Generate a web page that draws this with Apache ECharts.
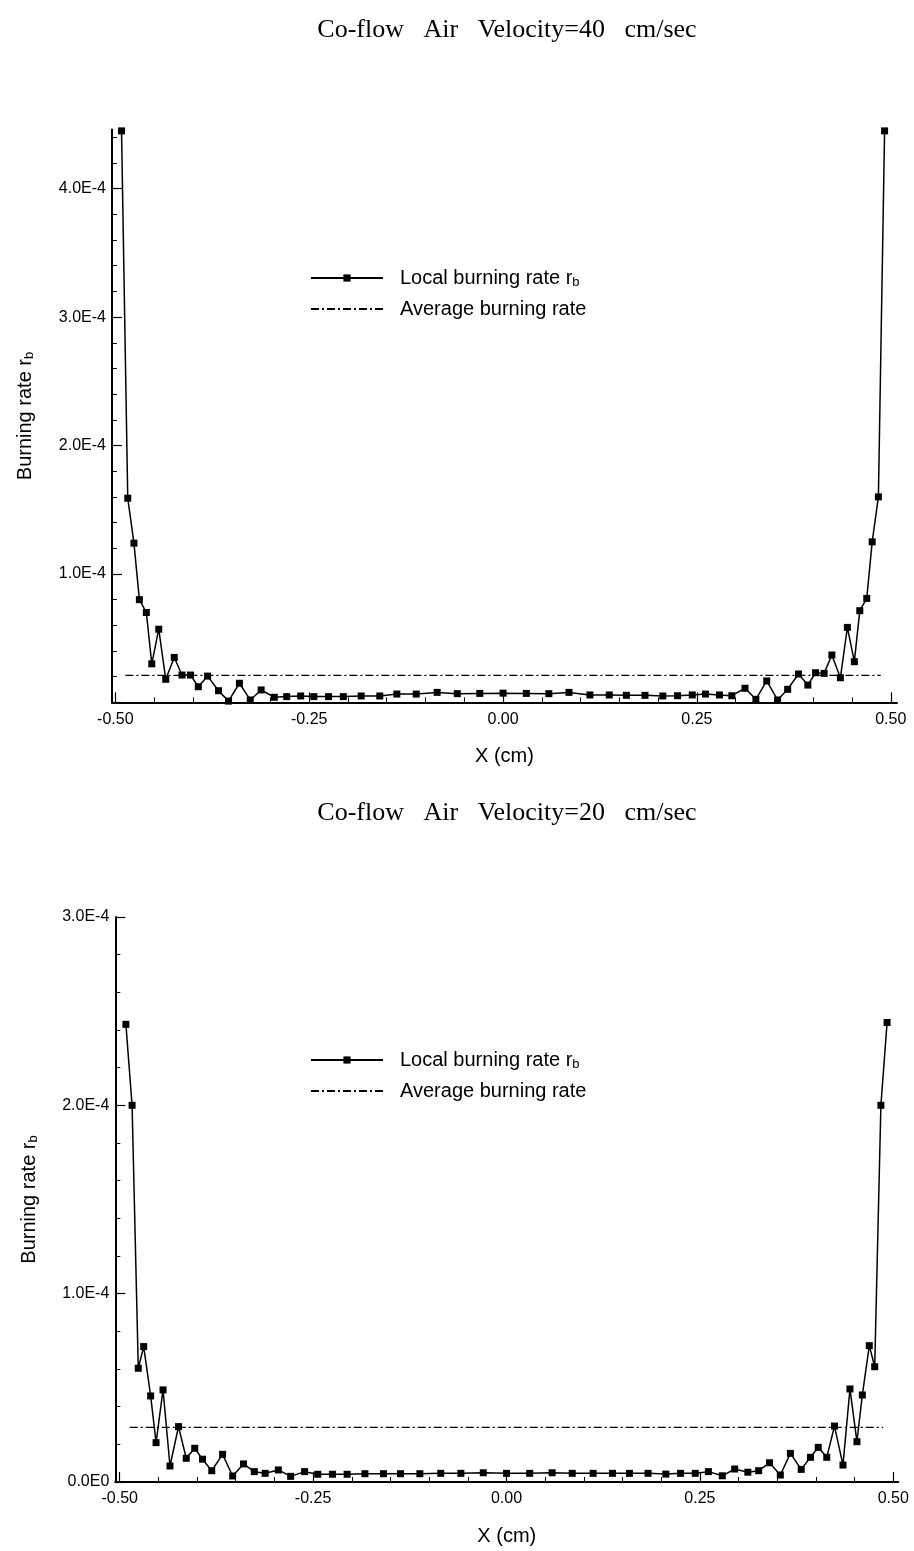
<!DOCTYPE html>
<html><head><meta charset="utf-8">
<script src="https://cdn.jsdelivr.net/npm/echarts@6/dist/echarts.min.js"></script>
<style>html,body{margin:0;padding:0;background:#fff}#c{width:914px;height:1551px}</style>
</head><body><div id="c"></div>
<script>
// x positions of the grid points (cm)
const xGrid = [-0.492,-0.484,-0.476,-0.469,-0.460,-0.453,-0.444,-0.435,-0.424,-0.414,-0.403,-0.393,-0.381,-0.367,-0.354,-0.340,-0.326,-0.312,-0.295,-0.279,-0.261,-0.244,-0.225,-0.206,-0.183,-0.159,-0.137,-0.112,-0.085,-0.059,-0.030,0,0.030,0.059,0.085,0.112,0.137,0.159,0.183,0.206,0.225,0.244,0.261,0.279,0.295,0.312,0.326,0.340,0.354,0.367,0.381,0.393,0.403,0.414,0.424,0.435,0.444,0.453,0.460,0.469,0.476,0.484,0.492];
// local burning rate, in units of 1E-4
const rate40 = [4.45,1.59,1.24,0.80,0.70,0.30,0.57,0.18,0.35,0.213,0.213,0.122,0.205,0.091,0.01,0.149,0.019,0.097,0.04,0.045,0.05,0.045,0.045,0.045,0.05,0.05,0.065,0.065,0.078,0.068,0.07,0.072,0.07,0.068,0.078,0.058,0.058,0.055,0.055,0.05,0.052,0.058,0.065,0.058,0.052,0.11,0.024,0.167,0.019,0.102,0.221,0.135,0.231,0.226,0.369,0.192,0.584,0.317,0.714,0.81,1.25,1.60,4.45];
const rate20 = [2.43,2.0,0.604,0.719,0.457,0.209,0.489,0.085,0.294,0.126,0.179,0.121,0.06,0.147,0.032,0.096,0.055,0.046,0.064,0.03,0.055,0.041,0.041,0.041,0.044,0.044,0.044,0.044,0.046,0.046,0.049,0.046,0.046,0.049,0.046,0.046,0.046,0.046,0.046,0.042,0.046,0.046,0.055,0.033,0.069,0.052,0.06,0.102,0.037,0.152,0.067,0.131,0.184,0.131,0.297,0.09,0.494,0.214,0.462,0.724,0.612,2.0,2.44];
const avg40 = 0.21;
const avg20 = 0.29;
const avgSpan = [-0.487, 0.487];
const SCALE = 1e4; // values above are rate * 1E4
const titles = ['Co-flow   Air   Velocity=40   cm/sec', 'Co-flow   Air   Velocity=20   cm/sec'];
const xMajor = [-0.5, -0.25, 0, 0.25, 0.5];
const xMinor = [-0.45,-0.40,-0.35,-0.30,-0.20,-0.15,-0.10,-0.05,0.05,0.10,0.15,0.20,0.30,0.35,0.40,0.45];
const y40Major = [0, 1, 2, 3, 4];
const y40Labels = [1, 2, 3, 4];
const y40Minor = [0.2,0.4,0.6,0.8,1.2,1.4,1.6,1.8,2.2,2.4,2.6,2.8,3.2,3.4,3.6,3.8,4.2,4.4];
const y20Major = [0, 1, 2, 3];
const y20Labels = [0, 1, 2, 3];
const y20Minor = [0.2,0.4,0.6,0.8,1.2,1.4,1.6,1.8,2.2,2.4,2.6,2.8];
const LOCAL = 'Local burning rate r_b';
const AVG = 'Average burning rate';

const sans = 'Liberation Sans';
const serif = 'Liberation Serif';
const toU = a => a.map(v => v / SCALE);
const yFmt = v => Math.abs(v) < 1e-12 ? '0.0E0' : (v * SCALE).toFixed(1) + 'E-4';

function xAxes(grid, min, max) {
  return [{
    type: 'value', gridIndex: grid, position: 'bottom', min: min, max: max,
    axisLine: {onZero: false, lineStyle: {color: '#000', width: 2}},
    axisTick: {inside: true, length: 10, customValues: xMajor, lineStyle: {color: '#000', width: 1.2}},
    axisLabel: {customValues: xMajor, formatter: v => v.toFixed(2), margin: 9, color: '#000', fontFamily: sans, fontSize: 16},
    splitLine: {show: false},
    name: 'X (cm)', nameLocation: 'middle', nameGap: 44,
    nameTextStyle: {color: '#000', fontFamily: sans, fontSize: 20}
  }, {
    type: 'value', gridIndex: grid, position: 'bottom', min: min, max: max,
    axisLine: {show: false, onZero: false},
    axisTick: {inside: true, length: 5, customValues: xMinor, lineStyle: {color: '#000', width: 1}},
    axisLabel: {show: false}, splitLine: {show: false}
  }];
}
function yAxes(grid, max, major, labels, minor, gap) {
  return [{
    type: 'value', gridIndex: grid, position: 'left', min: 0, max: max,
    axisLine: {onZero: false, lineStyle: {color: '#000', width: 2}},
    axisTick: {inside: true, length: 10, customValues: toU(major), lineStyle: {color: '#000', width: 1.2}},
    axisLabel: {customValues: toU(labels), formatter: yFmt, margin: 6, color: '#000', fontFamily: sans, fontSize: 16},
    splitLine: {show: false},
    name: '{a|Burning rate r}{b|b}', nameLocation: 'middle', nameGap: gap, nameRotate: 90,
    nameTextStyle: {color: '#000', rich: {
      a: {fontFamily: sans, fontSize: 20, lineHeight: 22, color: '#000'},
      b: {fontFamily: sans, fontSize: 13, lineHeight: 9, verticalAlign: 'bottom', color: '#000'}
    }}
  }, {
    type: 'value', gridIndex: grid, position: 'left', min: 0, max: max,
    axisLine: {show: false, onZero: false},
    axisTick: {inside: true, length: 5, customValues: toU(minor), lineStyle: {color: '#000', width: 1}},
    axisLabel: {show: false}, splitLine: {show: false}
  }];
}
function legend(top) {
  return {
    left: 310, top: top, padding: 0, orient: 'vertical', itemWidth: 72, itemHeight: 9, itemGap: 10,
    data: [{name: LOCAL}, {name: AVG, itemStyle: {opacity: 0}}],
    formatter: n => n === LOCAL ? '{t|Local burning rate r}{s|b}' : '{t|Average burning rate}',
    textStyle: {rich: {
      t: {fontFamily: sans, fontSize: 20, lineHeight: 22, color: '#000', padding: [0, 0, 0, 12]},
      s: {fontFamily: sans, fontSize: 13, lineHeight: 9, verticalAlign: 'bottom', color: '#000'}
    }},
    selectedMode: false
  };
}
function localSeries(xi, yi, vals) {
  return {
    type: 'line', name: LOCAL, xAxisIndex: xi, yAxisIndex: yi,
    data: xGrid.map((x, i) => [x, vals[i] / SCALE]),
    symbol: 'rect', symbolSize: 7, showAllSymbol: true,
    lineStyle: {color: '#000', width: 1.5}, itemStyle: {color: '#000'}, z: 3
  };
}
function avgSeries(xi, yi, v) {
  return {
    type: 'line', name: AVG, xAxisIndex: xi, yAxisIndex: yi,
    data: avgSpan.map(x => [x, v / SCALE]),
    symbol: 'none',
    lineStyle: {color: '#000', width: 1.2, type: [8, 3, 2, 3]}, itemStyle: {color: '#000'}, z: 2
  };
}

const option = {
  animation: false,
  backgroundColor: '#fff',
  title: [
    {text: titles[0], left: 502, top: 12, textAlign: 'center', textStyle: {fontFamily: serif, fontSize: 26, fontWeight: 'normal', color: '#000'}},
    {text: titles[1], left: 502, top: 795, textAlign: 'center', textStyle: {fontFamily: serif, fontSize: 26, fontWeight: 'normal', color: '#000'}}
  ],
  legend: [legend(268), legend(1050)],
  grid: [
    {left: 112, top: 129.6, width: 785, height: 572.8},
    {left: 115.3, top: 917, width: 783, height: 565}
  ],
  xAxis: [].concat(xAxes(0, -0.5043, 0.508), xAxes(1, -0.5057, 0.5065)),
  yAxis: [].concat(yAxes(0, 4.46 / SCALE, y40Major, y40Labels, y40Minor, 76), yAxes(1, 3 / SCALE, y20Major, y20Labels, y20Minor, 75)),
  series: [
    localSeries(0, 0, rate40), avgSeries(0, 0, avg40),
    localSeries(2, 2, rate20), avgSeries(2, 2, avg20)
  ]
};
const chart = echarts.init(document.getElementById('c'), null, {renderer: 'canvas'});
chart.setOption(option);
</script></body></html>
